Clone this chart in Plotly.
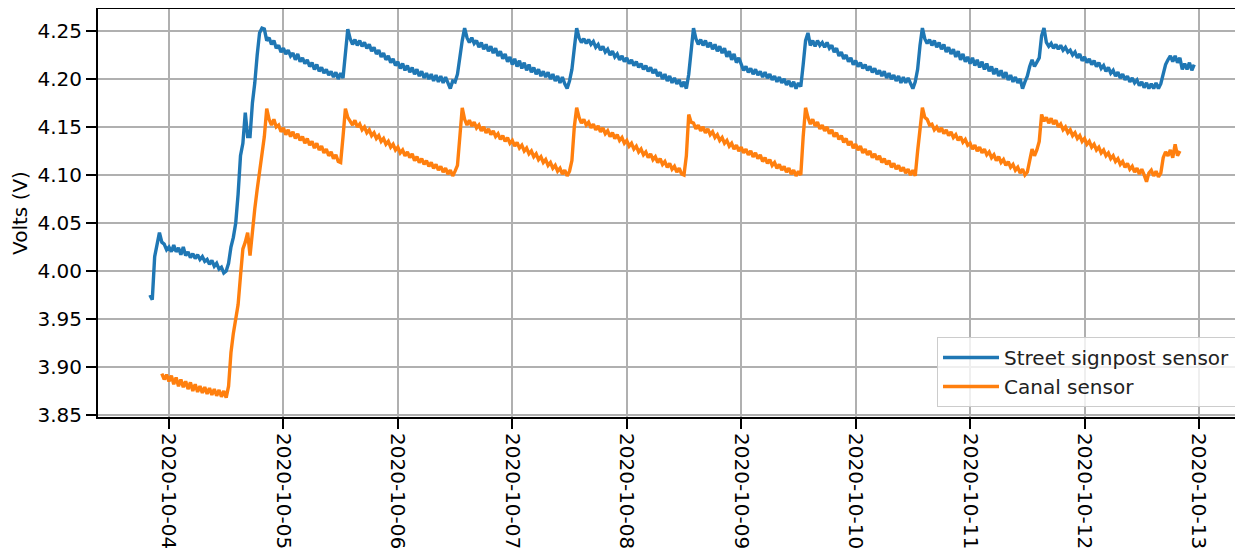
import pandas as pd
import plotly.graph_objects as go

# Street signpost sensor: half-hourly readings starting 2020-10-03 20:00
blue_start = "2020-10-03 20:00"
blue_volts = [
    3.975, 3.970, 4.015, 4.030, 4.040, 4.030, 4.028, 4.022,
    # 10-04
    4.025, 4.020, 4.027, 4.020, 4.024, 4.017, 4.025, 4.016, 4.020, 4.014, 4.018, 4.013,
    4.017, 4.012, 4.015, 4.010, 4.012, 4.007, 4.011, 4.005, 4.008, 4.002, 4.004, 3.998,
    4.000, 4.008, 4.025, 4.035, 4.050, 4.080, 4.120, 4.133, 4.165, 4.140, 4.140, 4.175,
    4.196, 4.225, 4.248, 4.253, 4.252, 4.240, 4.243, 4.236, 4.240, 4.232, 4.235, 4.228,
    # 10-05
    4.232, 4.226, 4.230, 4.224, 4.227, 4.220, 4.226, 4.218, 4.222, 4.216, 4.220, 4.213,
    4.217, 4.210, 4.215, 4.208, 4.212, 4.206, 4.210, 4.204, 4.208, 4.202, 4.207, 4.200,
    4.206, 4.201, 4.225, 4.252, 4.242, 4.236, 4.241, 4.235, 4.240, 4.234, 4.238, 4.232,
    4.236, 4.229, 4.233, 4.226, 4.230, 4.223, 4.227, 4.220, 4.224, 4.217, 4.221, 4.214,
    # 10-06
    4.218, 4.211, 4.216, 4.209, 4.214, 4.207, 4.212, 4.205, 4.210, 4.203, 4.208, 4.201,
    4.206, 4.200, 4.205, 4.198, 4.204, 4.197, 4.203, 4.196, 4.202, 4.195, 4.190, 4.198,
    4.197, 4.205, 4.225, 4.240, 4.253, 4.243, 4.238, 4.243, 4.237, 4.240, 4.233, 4.238,
    4.231, 4.236, 4.229, 4.234, 4.227, 4.232, 4.224, 4.229, 4.221, 4.226, 4.218, 4.223,
    # 10-07
    4.215, 4.221, 4.213, 4.219, 4.211, 4.217, 4.209, 4.215, 4.207, 4.212, 4.205, 4.210,
    4.203, 4.208, 4.202, 4.207, 4.200, 4.205, 4.198, 4.203, 4.196, 4.202, 4.195, 4.190,
    4.198, 4.210, 4.232, 4.253, 4.243, 4.238, 4.242, 4.237, 4.241, 4.236, 4.239, 4.233,
    4.236, 4.230, 4.234, 4.228, 4.231, 4.225, 4.229, 4.223, 4.226, 4.220, 4.224, 4.218,
    # 10-08
    4.222, 4.216, 4.220, 4.214, 4.218, 4.212, 4.216, 4.210, 4.214, 4.208, 4.212, 4.206,
    4.210, 4.203, 4.207, 4.200, 4.205, 4.198, 4.203, 4.196, 4.201, 4.195, 4.199, 4.192,
    4.197, 4.190, 4.205, 4.230, 4.253, 4.242, 4.236, 4.241, 4.235, 4.240, 4.233, 4.238,
    4.231, 4.236, 4.229, 4.234, 4.227, 4.232, 4.223, 4.229, 4.220, 4.226, 4.217, 4.222,
    # 10-09
    4.215, 4.209, 4.213, 4.207, 4.211, 4.205, 4.210, 4.204, 4.208, 4.202, 4.207, 4.201,
    4.205, 4.199, 4.203, 4.197, 4.202, 4.196, 4.200, 4.194, 4.198, 4.192, 4.197, 4.190,
    4.196, 4.192, 4.215, 4.240, 4.248, 4.235, 4.240, 4.234, 4.240, 4.235, 4.238, 4.233,
    4.238, 4.232, 4.235, 4.228, 4.232, 4.224, 4.228, 4.221, 4.225, 4.218, 4.222, 4.215,
    # 10-10
    4.219, 4.213, 4.217, 4.211, 4.215, 4.209, 4.213, 4.207, 4.211, 4.205, 4.209, 4.203,
    4.208, 4.201, 4.206, 4.200, 4.204, 4.198, 4.203, 4.196, 4.202, 4.196, 4.201, 4.195,
    4.190, 4.197, 4.210, 4.235, 4.253, 4.242, 4.237, 4.241, 4.235, 4.240, 4.233, 4.238,
    4.231, 4.236, 4.228, 4.233, 4.226, 4.231, 4.223, 4.229, 4.220, 4.226, 4.218, 4.223,
    # 10-11
    4.216, 4.222, 4.214, 4.220, 4.212, 4.218, 4.210, 4.216, 4.208, 4.213, 4.205, 4.211,
    4.203, 4.209, 4.201, 4.207, 4.199, 4.204, 4.197, 4.202, 4.196, 4.200, 4.190, 4.197,
    4.203, 4.213, 4.220, 4.213, 4.218, 4.222, 4.245, 4.253, 4.238, 4.234, 4.237, 4.232,
    4.236, 4.231, 4.235, 4.230, 4.233, 4.228, 4.230, 4.225, 4.228, 4.222, 4.226, 4.219,
    # 10-12
    4.223, 4.217, 4.221, 4.215, 4.219, 4.213, 4.217, 4.211, 4.214, 4.208, 4.212, 4.206,
    4.209, 4.203, 4.207, 4.201, 4.205, 4.199, 4.203, 4.197, 4.201, 4.196, 4.199, 4.193,
    4.197, 4.191, 4.196, 4.190, 4.195, 4.190, 4.196, 4.190, 4.195, 4.205, 4.215, 4.220,
    4.224, 4.218, 4.224, 4.217, 4.222, 4.210, 4.216, 4.210, 4.217, 4.209, 4.215,
]

# Canal sensor: half-hourly readings starting 2020-10-03 22:30
orange_start = "2020-10-03 22:30"
orange_volts = [
    3.893, 3.887, 3.892,
    # 10-04
    3.885, 3.891, 3.882, 3.889, 3.880, 3.887, 3.879, 3.885, 3.877, 3.884, 3.875, 3.882,
    3.874, 3.880, 3.873, 3.879, 3.872, 3.878, 3.871, 3.877, 3.870, 3.876, 3.869, 3.875,
    3.868, 3.880, 3.915, 3.935, 3.950, 3.965, 3.995, 4.023, 4.030, 4.040, 4.016, 4.045,
    4.065, 4.085, 4.105, 4.125, 4.140, 4.169, 4.158, 4.152, 4.158, 4.150, 4.152, 4.145,
    # 10-05
    4.149, 4.142, 4.147, 4.140, 4.145, 4.138, 4.143, 4.136, 4.140, 4.133, 4.138, 4.131,
    4.135, 4.128, 4.133, 4.126, 4.130, 4.123, 4.127, 4.120, 4.124, 4.117, 4.121, 4.114,
    4.113, 4.140, 4.169, 4.160, 4.156, 4.152, 4.157, 4.150, 4.153, 4.147, 4.150, 4.144,
    4.147, 4.141, 4.144, 4.138, 4.141, 4.135, 4.138, 4.132, 4.135, 4.129, 4.132, 4.126,
    # 10-06
    4.129, 4.123, 4.126, 4.120, 4.124, 4.118, 4.122, 4.115, 4.119, 4.113, 4.117, 4.111,
    4.115, 4.109, 4.113, 4.107, 4.111, 4.105, 4.109, 4.103, 4.107, 4.101, 4.105, 4.099,
    4.104, 4.110, 4.140, 4.170, 4.158, 4.152, 4.157, 4.151, 4.155, 4.149, 4.152, 4.146,
    4.150, 4.144, 4.148, 4.142, 4.146, 4.140, 4.143, 4.137, 4.141, 4.135, 4.139, 4.133,
    # 10-07
    4.136, 4.130, 4.134, 4.128, 4.131, 4.125, 4.128, 4.122, 4.125, 4.119, 4.122, 4.116,
    4.119, 4.113, 4.116, 4.110, 4.113, 4.107, 4.110, 4.104, 4.107, 4.101, 4.105, 4.099,
    4.104, 4.115, 4.150, 4.170, 4.160, 4.154, 4.158, 4.152, 4.155, 4.149, 4.153, 4.147,
    4.151, 4.145, 4.149, 4.143, 4.146, 4.140, 4.144, 4.138, 4.142, 4.136, 4.139, 4.133,
    # 10-08
    4.136, 4.130, 4.133, 4.127, 4.130, 4.124, 4.127, 4.121, 4.124, 4.118, 4.122, 4.116,
    4.119, 4.113, 4.117, 4.111, 4.114, 4.108, 4.112, 4.106, 4.109, 4.103, 4.107, 4.101,
    4.100, 4.120, 4.163, 4.155, 4.154, 4.148, 4.152, 4.146, 4.150, 4.144, 4.148, 4.142,
    4.145, 4.139, 4.142, 4.136, 4.139, 4.133, 4.136, 4.130, 4.133, 4.127, 4.131, 4.125,
    # 10-09
    4.129, 4.123, 4.127, 4.121, 4.125, 4.119, 4.123, 4.117, 4.121, 4.114, 4.118, 4.112,
    4.116, 4.110, 4.113, 4.107, 4.111, 4.105, 4.109, 4.103, 4.107, 4.101, 4.105, 4.099,
    4.104, 4.100, 4.140, 4.170, 4.160, 4.153, 4.158, 4.151, 4.155, 4.148, 4.152, 4.146,
    4.150, 4.143, 4.147, 4.140, 4.144, 4.137, 4.141, 4.134, 4.138, 4.131, 4.135, 4.128,
    # 10-10
    4.132, 4.126, 4.130, 4.123, 4.127, 4.121, 4.125, 4.118, 4.122, 4.116, 4.120, 4.113,
    4.117, 4.111, 4.115, 4.108, 4.112, 4.106, 4.110, 4.104, 4.108, 4.102, 4.106, 4.100,
    4.105, 4.099, 4.125, 4.150, 4.170, 4.160, 4.158, 4.152, 4.153, 4.147, 4.150, 4.145,
    4.149, 4.143, 4.147, 4.141, 4.145, 4.139, 4.142, 4.136, 4.140, 4.134, 4.137, 4.131,
    # 10-11
    4.133, 4.127, 4.131, 4.125, 4.129, 4.123, 4.127, 4.121, 4.124, 4.118, 4.121, 4.115,
    4.119, 4.113, 4.116, 4.110, 4.114, 4.108, 4.111, 4.105, 4.108, 4.102, 4.106, 4.100,
    4.103, 4.115, 4.127, 4.120, 4.126, 4.135, 4.163, 4.156, 4.160, 4.154, 4.159, 4.153,
    4.157, 4.150, 4.153, 4.147, 4.150, 4.144, 4.147, 4.141, 4.144, 4.138, 4.141, 4.135,
    # 10-12
    4.138, 4.132, 4.135, 4.129, 4.132, 4.126, 4.129, 4.123, 4.126, 4.120, 4.123, 4.117,
    4.120, 4.114, 4.117, 4.111, 4.114, 4.108, 4.112, 4.106, 4.109, 4.103, 4.107, 4.101,
    4.106, 4.100, 4.093, 4.102, 4.105, 4.099, 4.104, 4.098, 4.102, 4.118, 4.124, 4.120,
    4.126, 4.118, 4.132, 4.120, 4.125,
]

series_names = ["Street signpost sensor", "Canal sensor"]
series_colors = ["#1f77b4", "#ff7f0e"]
y_title = "Volts (V)"

blue_time = pd.date_range(blue_start, periods=len(blue_volts), freq="30min")
orange_time = pd.date_range(orange_start, periods=len(orange_volts), freq="30min")

FONT = "DejaVu Sans"
FS = 20

fig = go.Figure()
fig.add_trace(go.Scatter(x=blue_time, y=blue_volts, mode="lines", name=series_names[0],
                         legendgroup="a",
                         line=dict(color=series_colors[0], width=3.4)))
fig.add_trace(go.Scatter(x=orange_time, y=orange_volts, mode="lines", name=series_names[1],
                         legendgroup="b",
                         line=dict(color=series_colors[1], width=3.4)))

# the page adds an 8px body margin on the left and top
fig.update_layout(
    width=1235, height=544,
    margin=dict(l=90, r=0, t=1, b=135, pad=0),
    paper_bgcolor="white", plot_bgcolor="white",
    font=dict(family=FONT, size=FS, color="black"),
    showlegend=True,
    legend=dict(x=0.9939, y=0.0245, xanchor="right", yanchor="bottom",
                bgcolor="rgba(255,255,255,0.8)", bordercolor="#cccccc", borderwidth=1,
                itemwidth=56, tracegroupgap=0,
                font=dict(family=FONT, size=FS, color="#222222")),
)
fig.update_xaxes(
    type="date",
    range=["2020-10-03 09:07", "2020-10-13 09:14"],
    tick0="2020-10-04", dtick=86400000, tickformat="%Y-%m-%d",
    tickangle=90,
    ticks="outside", ticklen=10, tickwidth=2, tickcolor="black",
    showline=True, linecolor="black", linewidth=2, mirror=True,
    showgrid=True, gridcolor="#b0b0b0", gridwidth=1.6,
    zeroline=False, automargin=False,
    tickfont=dict(family=FONT, size=FS, color="black"),
)
fig.update_yaxes(
    range=[3.8479, 4.2729],
    tick0=3.85, dtick=0.05, tickformat=".2f",
    ticks="outside", ticklen=10, tickwidth=2, tickcolor="black",
    showline=True, linecolor="black", linewidth=2, mirror=False,
    showgrid=True, gridcolor="#b0b0b0", gridwidth=1.6,
    zeroline=False, automargin=False,
    tickfont=dict(family=FONT, size=FS, color="black"),
    title=dict(text=y_title, standoff=8, font=dict(family=FONT, size=FS, color="black")),
)

fig.write_html("out.html")
